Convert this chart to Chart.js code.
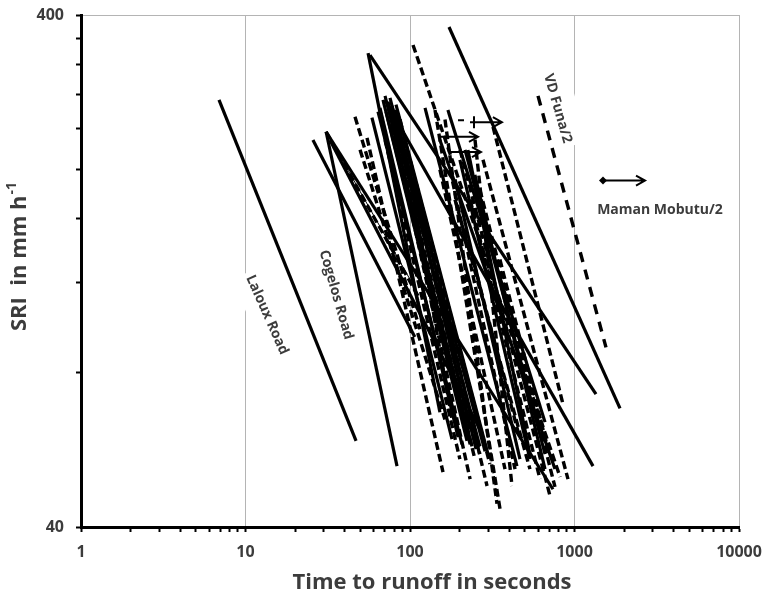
<!DOCTYPE html>
<html>
<head>
<meta charset="utf-8">
<script src="https://cdn.jsdelivr.net/npm/chart.js@4.4.0/dist/chart.umd.min.js"></script>
<style>
  html, body { margin: 0; background: #fff; }
  #wrap { width: 765px; height: 597px; }
</style>
</head>
<body>
<div id="wrap"><canvas id="c" width="765" height="597"></canvas></div>
<script>
// SRI vs time to runoff, one segment per test run: [t1, sri1, t2, sri2]
const solidRuns = [
  [6.9, 273, 47.0, 58.9],      // Laloux Road
  [30.9, 236.6, 83.4, 52.6],   // Cogelos Road
  [25.7, 228, 107, 94],
  [32.6, 228, 266, 62.1],
  [30.9, 236.6, 740, 47.4],
  [57.1, 334, 1351, 72.7],
  [172.6, 379, 1891, 68.2],
  [70.5, 273, 1296, 52.6],
  [55.6, 337, 152, 67.0],
  [58.7, 252, 180, 59.4],
  [68.5, 273, 222, 58.9],
  [73.5, 271, 266, 57.5],
  [77.7, 266, 286, 56.2],
  [63.9, 259, 207, 58.0],
  [81.1, 261, 232, 62.1],
  [70.5, 278, 238, 57.5],
  [75.6, 275.6, 252, 56.8],
  [82.2, 267.3, 298, 55.5],
  [65.7, 263.5, 196, 59.9],
  [71.5, 259, 232, 58.0],
  [123.4, 263.5, 447, 52.6],
  [170, 261, 662, 64.1],
  [152, 228, 761, 51.9],
  [201, 208.6, 536, 54.3],
  [216, 218, 662, 55.5],
  [225, 218, 536, 55.5],
  [248, 195, 662, 51.9],
  [188, 191, 466, 54.3]
];
const dashedRuns = [
  [30.9, 236.6, 115, 111.3],
  [46.3, 253, 115, 97.3],
  [54.8, 230.2, 158.7, 51.2],
  [104.3, 349.6, 817, 50.1],
  [141.9, 261, 352.5, 43.4],
  [163.2, 250, 338, 44.4],
  [277.8, 208.6, 913, 49.6],
  [319.6, 242, 851.5, 69.5],
  [201.4, 218.2, 710, 46.0],
  [248.4, 228.2, 417, 48.1],
  [87, 250, 294, 48.1],
  [100, 208.6, 266, 55.5],
  [75.6, 261, 248, 54.3],
  [187.7, 174.4, 536, 51.9],
  [216, 152.4, 466, 59.4],
  [49.7, 218.2, 163, 64.9],
  [152, 199.5, 378, 51.9],
  [70.5, 228, 201, 54.3],
  [84.6, 255.5, 306, 53.1],
  [77.7, 244.5, 232, 49.6],
  [93.2, 218.2, 180, 64.9],
  [232, 174.4, 617, 49.6],
  [266, 182.4, 761, 47.9],
  [175, 199.5, 435, 51.9],
  [352, 133.2, 690, 56.8]
];
const vdFunaRun = [600, 278, 1554, 89.7];
const thinRuns = [
  [31.7, 233.4, 100, 121.8]
];
// runs still without runoff at the end of the test: [t_start, t_end, sri]
const openRuns = [
  [231.6, 362, 247],
  [152.2, 259, 231.3],
  [170, 270, 216],
  [1490, 2683, 190]   // Maman Mobutu/2
];

const xTicks = [];
for (let d = 1; d < 10000; d *= 10) for (let m = 1; m < 10; m++) xTicks.push(m * d);
xTicks.push(10000);
const xLabels = [1, 10, 100, 1000, 10000];
const yTicks = [40, 80, 120, 160, 200, 240, 280, 320, 360, 400];
const yLabels = [40, 400];

const FONT = '"Open Sans", sans-serif';
const TEXT = '#3c3c3c';

function seg(r, width, dash) {
  return {
    data: [{ x: r[0], y: r[1] }, { x: r[2], y: r[3] }],
    showLine: true, borderColor: '#000', borderWidth: width, borderDash: dash || [],
    pointRadius: 0, fill: false
  };
}

const datasets = [
  ...thinRuns.map(r => seg(r, 1)),
  ...solidRuns.map(r => seg(r, 3.2)),
  ...dashedRuns.map(r => seg(r, 3.4, [8, 4])),
  seg(vdFunaRun, 3.4, [10, 8])
];

// site names written along their lines, on a white patch
const siteLabels = [
  { text: 'Laloux Road', x: 13.7, y: 104, angle: 66 },
  { text: 'Cogelos Road', x: 36.0, y: 113.8, angle: 74 },
  { text: 'VD Funa/2', x: 800, y: 263, angle: 74 },
  { text: 'Maman Mobutu/2', x: 3310, y: 167.5, angle: 0, padX: 12, padY: 5 }
];

function labelFrame(chart, l, cb) {
  const { ctx, scales: { x, y } } = chart;
  ctx.save();
  ctx.font = 'bold 14px ' + FONT;
  ctx.translate(x.getPixelForValue(l.x), y.getPixelForValue(l.y));
  ctx.rotate(l.angle * Math.PI / 180);
  cb(ctx, ctx.measureText(l.text).width);
  ctx.restore();
}

const notes = {
  id: 'notes',
  beforeDatasetsDraw(chart) {
    siteLabels.forEach(l => labelFrame(chart, l, (ctx, w) => {
      const padX = l.padX || 4, padY = l.padY || 9;
      ctx.fillStyle = '#fff';
      ctx.fillRect(-w / 2 - padX, -10 - padY, w + 2 * padX, 20 + 2 * padY);
    }));
  },
  afterDatasetsDraw(chart) {
    const { ctx, scales: { x, y } } = chart;
    ctx.save();
    ctx.strokeStyle = '#000';
    ctx.fillStyle = '#000';
    ctx.lineWidth = 2;
    openRuns.forEach((r, i) => {
      const x1 = x.getPixelForValue(r[0]);
      const x2 = x.getPixelForValue(r[1]);
      const py = y.getPixelForValue(r[2]);
      ctx.beginPath();
      ctx.moveTo(x1, py); ctx.lineTo(x2, py);
      ctx.moveTo(x2 - 9, py - 5); ctx.lineTo(x2, py); ctx.lineTo(x2 - 9, py + 5);
      ctx.stroke();
      if (i === openRuns.length - 1) {
        ctx.beginPath();
        ctx.moveTo(x1 - 4, py); ctx.lineTo(x1, py - 4); ctx.lineTo(x1 + 4, py); ctx.lineTo(x1, py + 4);
        ctx.closePath(); ctx.fill();
      } else if (i === 0) {
        ctx.beginPath();
        ctx.moveTo(x1 + 4, py - 6); ctx.lineTo(x1 + 4, py + 6);
        ctx.moveTo(x1 - 12, py - 2); ctx.lineTo(x1 - 6, py - 2);
        ctx.stroke();
      }
    });
    ctx.restore();

    siteLabels.forEach(l => labelFrame(chart, l, (c) => {
      c.fillStyle = TEXT;
      c.textAlign = 'center';
      c.textBaseline = 'middle';
      c.fillText(l.text, 0, 1);
    }));
  },
  afterDraw(chart) {
    const { ctx } = chart;
    ctx.save();
    ctx.fillStyle = TEXT;
    ctx.textBaseline = 'middle';
    ctx.textAlign = 'center';
    ctx.font = 'bold 22px ' + FONT;
    ctx.fillText('Time to runoff in seconds', 432, 583);

    // vertical title with superscript
    const main = 'SRI  in mm h';
    const sup = '-1';
    ctx.translate(20, 257);
    ctx.rotate(-Math.PI / 2);
    ctx.textAlign = 'left';
    const wMain = ctx.measureText(main).width;
    ctx.font = 'bold 14px ' + FONT;
    const wSup = ctx.measureText(sup).width;
    const start = -(wMain + wSup) / 2;
    ctx.font = 'bold 22px ' + FONT;
    ctx.fillText(main, start, 0);
    ctx.font = 'bold 14px ' + FONT;
    ctx.fillText(sup, start + wMain + 1, -8);
    ctx.restore();
  }
};

const isDecade = v => Math.abs(Math.log10(v) - Math.round(Math.log10(v))) < 1e-9;

new Chart(document.getElementById('c'), {
  type: 'scatter',
  data: { datasets },
  options: {
    responsive: false,
    animation: false,
    layout: { padding: { top: 15, right: 26, left: 0, bottom: 0 } },
    plugins: { legend: { display: false }, tooltip: { enabled: false } },
    scales: {
      x: {
        type: 'logarithmic', min: 1, max: 10000,
        afterFit: s => { s.height = 70; s.paddingLeft = 0; s.paddingRight = 0; },
        afterBuildTicks: s => { s.ticks = xTicks.map(v => ({ value: v })); },
        ticks: {
          autoSkip: false, maxRotation: 0, padding: 11, color: TEXT,
          font: { family: FONT, size: 16, weight: 'bold' },
          callback: v => xLabels.includes(v) ? String(v) : ''
        },
        grid: {
          color: c => (c.tick && isDecade(c.tick.value)) ? '#b4b4b4' : 'rgba(0,0,0,0)',
          lineWidth: 1, tickColor: '#000', tickLength: 5, tickWidth: 2
        },
        border: { color: '#000', width: 3 }
      },
      y: {
        type: 'logarithmic', min: 40, max: 400,
        afterFit: s => { s.width = 81; s.paddingTop = 0; s.paddingBottom = 0; },
        afterBuildTicks: s => { s.ticks = yTicks.map(v => ({ value: v })); },
        ticks: {
          autoSkip: false, padding: 12, color: TEXT,
          font: { family: FONT, size: 16, weight: 'bold' },
          callback: v => yLabels.includes(v) ? String(v) : ''
        },
        grid: {
          color: c => (c.tick && c.tick.value === 400) ? '#b4b4b4' : 'rgba(0,0,0,0)',
          lineWidth: 1, tickColor: '#000', tickLength: 5, tickWidth: 2
        },
        border: { color: '#000', width: 3 }
      }
    }
  },
  plugins: [notes]
});
</script>
</body>
</html>
